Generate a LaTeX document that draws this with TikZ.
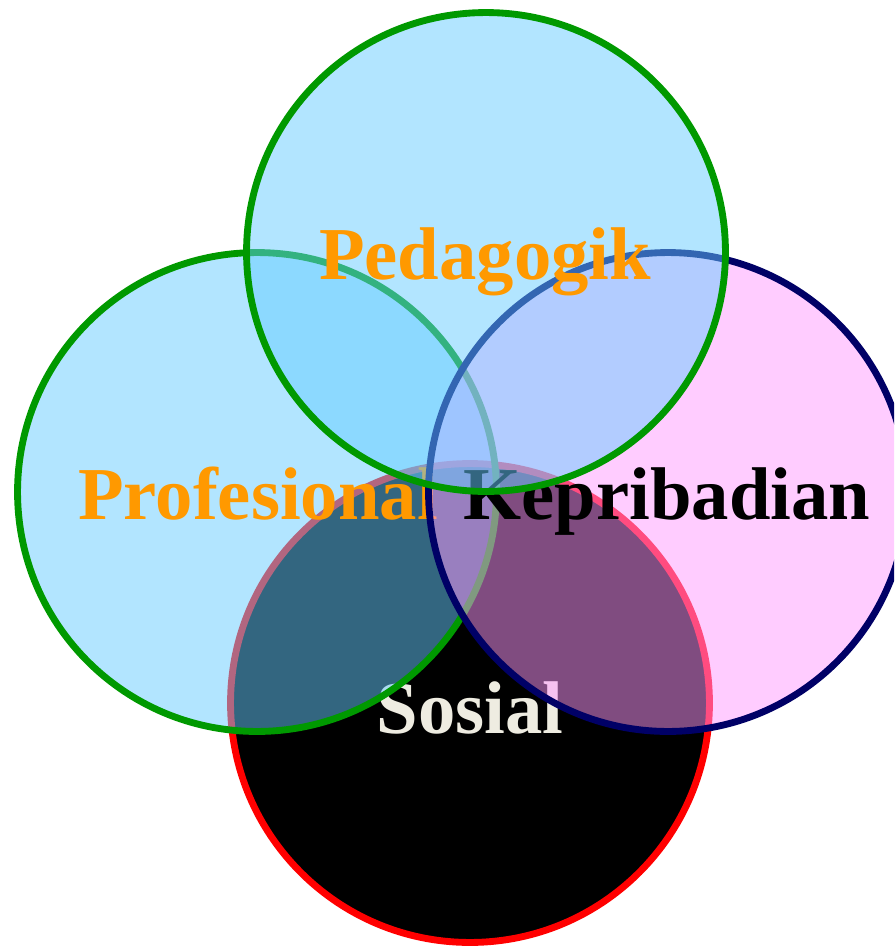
\documentclass[tikz,border=0pt]{standalone}
\usepackage{fontspec}
\setmainfont{Liberation Serif}
\definecolor{ringgreen}{HTML}{009900}
\definecolor{ringnavy}{HTML}{000066}
\definecolor{ringred}{HTML}{FF0000}
\definecolor{fillblue}{HTML}{66CCFF}
\definecolor{fillpink}{HTML}{FF99FF}
\definecolor{laborange}{HTML}{FF9900}
\definecolor{labcream}{HTML}{EEECE1}
\begin{document}
\begin{tikzpicture}[x=0.02cm,y=-0.02cm,
  ring/.style={circle, inner sep=0pt, minimum size=9.58cm, line width=3.9pt},
  lab/.style={font=\bfseries\fontsize{42.5}{50}\selectfont, anchor=base, inner sep=0pt}]
\useasboundingbox (0,0) rectangle (894,947);
\clip (0,0) rectangle (894,947);
% bottom: Sosial
\node[ring, draw=ringred, fill=black] (sos) at (470,703) {};
\node[lab, text=labcream] (sost) at (470,733) {Sosial};
% left: Profesional
\node[ring, draw=ringgreen, fill=fillblue, fill opacity=0.5] (pro) at (257,492) {};
\node[lab, text=laborange] (prot) at (258,519) {Profesional};
% right: Kepribadian
\node[ring, draw=ringnavy, fill=fillpink, fill opacity=0.5] (kep) at (668,492) {};
\node[lab, text=black] (kept) at (667,519) {Kepribadian};
% top: Pedagogik
\node[ring, draw=ringgreen, fill=fillblue, fill opacity=0.5] (ped) at (486,252) {};
\node[lab, text=laborange] (pedt) at (485,279) {Pedagogik};
\end{tikzpicture}
\end{document}
